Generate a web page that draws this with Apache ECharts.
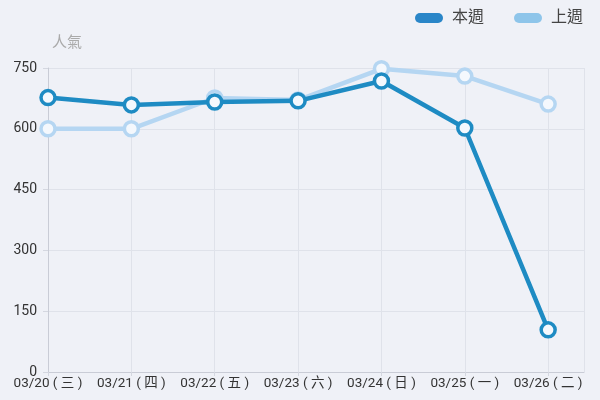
<!DOCTYPE html>
<html><head><meta charset="utf-8">
<script src="https://cdn.jsdelivr.net/npm/echarts@6/dist/echarts.min.js"></script>
<style>html,body{margin:0;padding:0;background:#eff1f7}#c{width:600px;height:400px}</style>
</head><body><div id="c"></div>
<script>
const categories = ['03/20 ( 三 )', '03/21 ( 四 )', '03/22 ( 五 )', '03/23 ( 六 )', '03/24 ( 日 )', '03/25 ( 一 )', '03/26 ( 二 )'];
const thisWeek = [677, 659, 666, 669, 718, 602, 104];
const lastWeek = [600, 600, 676, 671, 748, 730, 661];
const yTicks = [0, 150, 300, 450, 600, 750];
const seriesNames = ['本週', '上週'];

const chart = echarts.init(document.getElementById('c'));
const toPts = arr => arr.map((v, i) => [i, v]);
const font = 'Roboto, "Noto Sans CJK TC", sans-serif';
const pill = 'path://M5,0 L23,0 A5,5 0 0 1 23,10 L5,10 A5,5 0 0 1 5,0 Z';
chart.setOption({
  backgroundColor: '#eff1f7',
  textStyle: { fontFamily: font },
  legend: {
    top: 5, right: 12, itemWidth: 28, itemHeight: 11, itemGap: 30,
    icon: pill,
    textStyle: { fontSize: 16, color: '#444', fontFamily: font, padding: [0, 0, 0, 4] },
    data: [
      { name: seriesNames[0], itemStyle: { color: '#2a86c8', borderWidth: 0 } },
      { name: seriesNames[1], itemStyle: { color: '#8ec5ea', borderWidth: 0 } }
    ]
  },
  grid: { left: 48, right: 16, top: 68, bottom: 28 },
  xAxis: {
    type: 'value', min: 0, max: 6.43, interval: 1,
    axisLine: { show: true, lineStyle: { color: '#c9ccd6' } },
    axisTick: { show: true, length: 4, lineStyle: { color: '#d4d7e0' } },
    splitLine: { show: true, lineStyle: { color: '#dfe2ea' } },
    axisLabel: {
      color: '#333', fontSize: 13.5, margin: 5, showMaxLabel: false,
      formatter: v => Number.isInteger(v) ? (categories[v] || '') : ''
    }
  },
  yAxis: {
    type: 'value', min: yTicks[0], max: yTicks[yTicks.length - 1], interval: 150,
    name: '人氣', nameGap: 17,
    nameTextStyle: { color: '#aaa', fontSize: 15, align: 'left', padding: [0, 0, 0, 4] },
    axisLine: { show: true, lineStyle: { color: '#c9ccd6' } },
    axisTick: { show: true, length: 5, lineStyle: { color: '#d4d7e0' } },
    splitLine: { show: true, lineStyle: { color: '#dfe2ea' } },
    axisLabel: { color: '#333', fontSize: 14, margin: 11 }
  },
  series: [
    {
      name: seriesNames[1], type: 'line', data: toPts(lastWeek), z: 2,
      color: '#8ec5ea',
      symbol: 'circle', symbolSize: 14,
      lineStyle: { width: 4.5, color: '#b5d6f2' },
      itemStyle: { color: '#f4f8fd', borderColor: '#b5d6f2', borderWidth: 3.5 }
    },
    {
      name: seriesNames[0], type: 'line', data: toPts(thisWeek), z: 3,
      color: '#2a86c8',
      symbol: 'circle', symbolSize: 14,
      lineStyle: { width: 4.5, color: '#1e8bc3' },
      itemStyle: { color: '#f4f8fd', borderColor: '#1e8bc3', borderWidth: 3.5 }
    }
  ]
});
</script></body></html>
